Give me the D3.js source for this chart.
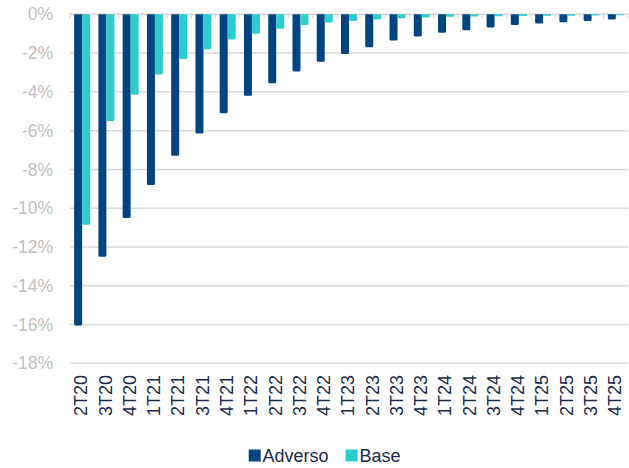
<!DOCTYPE html>
<html>
<head>
<meta charset="utf-8">
<script src="https://cdn.jsdelivr.net/npm/d3@7"></script>
<style>
  html, body { margin: 0; padding: 0; background: #fff; }
  svg { display: block; }
  text { font-family: "Liberation Sans", Arial, sans-serif; }
</style>
</head>
<body>
<svg id="chart" width="629" height="468"></svg>
<script>
const categories = ["2T20","3T20","4T20","1T21","2T21","3T21","4T21","1T22","2T22","3T22","4T22","1T23","2T23","3T23","4T23","1T24","2T24","3T24","4T24","1T25","2T25","3T25","4T25"];
const adverso = [-16.05, -12.5, -10.5, -8.8, -7.3, -6.15, -5.1, -4.2, -3.55, -2.95, -2.45, -2.05, -1.7, -1.35, -1.15, -0.95, -0.82, -0.68, -0.55, -0.48, -0.41, -0.34, -0.27];
const base = [-10.85, -5.5, -4.15, -3.1, -2.3, -1.8, -1.3, -1.0, -0.75, -0.55, -0.42, -0.35, -0.27, -0.2, -0.16, -0.13, -0.11, -0.1, -0.09, -0.08, -0.07, -0.06, -0.05];
const yTicks = [0, -2, -4, -6, -8, -10, -12, -14, -16, -18];
const seriesNames = ["Adverso", "Base"];
const seriesColors = ["#004481", "#2DCCCD"];

const svg = d3.select("#chart");
const plot = { left: 70, right: 628, top: 14.3, bottom: 363.3 };

const x = d3.scaleBand().domain(categories).range([plot.left, plot.right]).paddingInner(0).paddingOuter(0);
const y = d3.scaleLinear().domain([0, -18]).range([plot.top, plot.bottom]);
const barW = 8;
const xs = d3.scaleBand().domain(seriesNames).range([0, barW * 2]);

// gridlines
svg.append("g").selectAll("line").data(yTicks).join("line")
  .attr("x1", plot.left).attr("x2", plot.right)
  .attr("y1", d => y(d)).attr("y2", d => y(d))
  .attr("stroke", "#D9D9D9").attr("stroke-width", 1.5);

// category ticks on zero line
const bounds = categories.map(c => x(c)).concat([plot.right]);
svg.append("g").selectAll("line").data(bounds).join("line")
  .attr("x1", d => d).attr("x2", d => d)
  .attr("y1", y(0) - 1).attr("y2", y(0) + 4)
  .attr("stroke", "#D9D9D9").attr("stroke-width", 1.2);

// y labels
svg.append("g").selectAll("text").data(yTicks).join("text")
  .attr("x", 53).attr("y", d => y(d))
  .attr("dy", "0.35em")
  .attr("text-anchor", "end")
  .attr("font-size", 17.5)
  .attr("fill", "#BFBFBF")
  .text(d => d + "%");

// bars
function barPath(x0, w, y0, y1, r) {
  const h = y1 - y0;
  r = Math.min(r, h / 2, w / 2);
  return `M${x0},${y0}H${x0 + w}V${y1 - r}Q${x0 + w},${y1} ${x0 + w - r},${y1}H${x0 + r}Q${x0},${y1} ${x0},${y1 - r}Z`;
}
const seriesData = [adverso, base];
seriesData.forEach((vals, si) => {
  svg.append("g").selectAll("path").data(vals).join("path")
    .attr("d", (v, i) => {
      const cx = x(categories[i]) + x.bandwidth() / 2 - barW;
      return barPath(cx + xs(seriesNames[si]), barW, y(0), y(v), 1.5);
    })
    .attr("fill", seriesColors[si]);
});

// x labels
svg.append("g").selectAll("text").data(categories).join("text")
  .attr("transform", d => `translate(${x(d) + x.bandwidth() / 2 - 1},375) rotate(-90)`)
  .attr("dy", "0.35em")
  .attr("text-anchor", "end")
  .attr("font-size", 18)
  .attr("fill", "#1B2A4A")
  .text(d => d);

// legend
const legend = [
  { name: seriesNames[0], color: seriesColors[0], x: 248.7, tx: 262.5 },
  { name: seriesNames[1], color: seriesColors[1], x: 345.6, tx: 359.5 }
];
const lg = svg.append("g");
lg.selectAll("rect").data(legend).join("rect")
  .attr("x", d => d.x).attr("y", 449.5).attr("width", 12).attr("height", 12)
  .attr("fill", d => d.color);
lg.selectAll("text").data(legend).join("text")
  .attr("x", d => d.tx).attr("y", 462)
  .attr("font-size", 18)
  .attr("fill", "#1B2A4A")
  .text(d => d.name);
</script>
</body>
</html>
